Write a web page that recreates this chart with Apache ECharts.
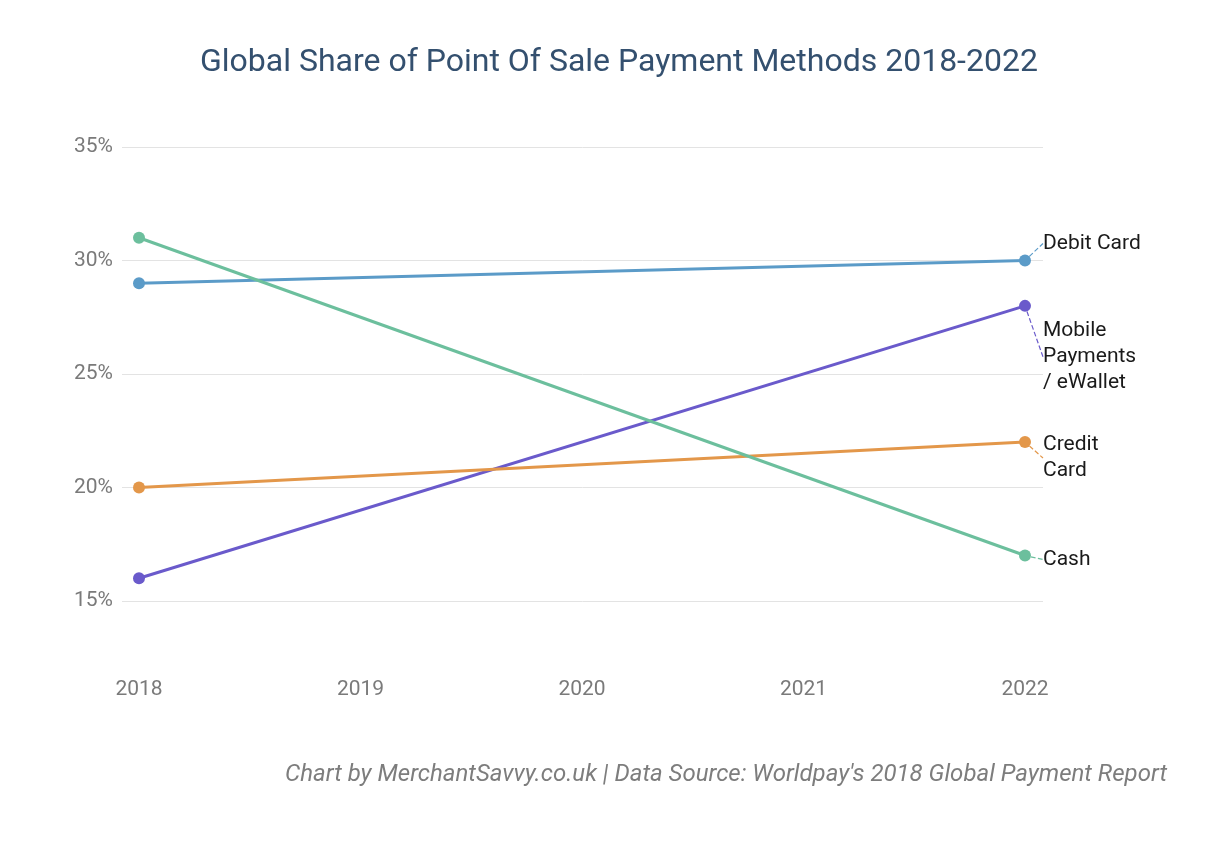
<!DOCTYPE html>
<html>
<head>
<meta charset="utf-8">
<script src="https://cdn.jsdelivr.net/npm/echarts@6/dist/echarts.min.js"></script>
<style>html,body{margin:0;padding:0;background:#fff;}#c{width:1212px;height:868px;}</style>
</head>
<body>
<div id="c"></div>
<script>
const years = ['2018', '2019', '2020', '2021', '2022'];
const seriesNames = ['Debit Card', 'Mobile\nPayments\n/ eWallet', 'Credit\nCard', 'Cash'];
const debitCard = [29, null, null, null, 30];
const mobilePayments = [16, null, null, null, 28];
const creditCard = [20, null, null, null, 22];
const cash = [31, null, null, null, 17];
const yTicks = [15, 20, 25, 30, 35];

const colors = ['#5b9bc8', '#6a5acb', '#e3974a', '#6cbf9d'];
const labelDy = [-17, 51, 16, 4];
const values = [debitCard, mobilePayments, creditCard, cash];

const chart = echarts.init(document.getElementById('c'));
const font = 'Roboto, sans-serif';

const series = values.map((arr, i) => ({
  name: seriesNames[i],
  type: 'line',
  xAxisIndex: 1,
  yAxisIndex: 1,
  connectNulls: true,
  symbol: 'circle',
  symbolSize: 12,
  lineStyle: { width: 3, color: colors[i] },
  itemStyle: { color: colors[i] },
  emphasis: { disabled: true },
  data: arr.map((v, j) => j === arr.length - 1 ? {
    value: v,
    label: {
      show: true, position: 'right', distance: 12,
      formatter: seriesNames[i],
      color: '#1a1a1a', fontFamily: font, fontSize: 21, lineHeight: 26, align: 'left'
    },
    labelLine: { show: true, lineStyle: { color: colors[i], type: 'dashed', width: 1.2 } }
  } : v),
  labelLayout: { dy: labelDy[i], dx: 0 },
  labelLine: { show: true, lineStyle: { color: colors[i], type: 'dashed', width: 1.2 } },
  z: 3
}));

chart.setOption({
  animation: false,
  backgroundColor: '#ffffff',
  title: [{
    text: 'Global Share of Point Of Sale Payment Methods 2018-2022',
    left: 195, top: 42,
    textStyle: { color: '#34506f', fontFamily: font, fontSize: 32, fontWeight: 'normal' }
  }, {
    text: "Chart by MerchantSavvy.co.uk | Data Source: Worldpay's 2018 Global Payment Report",
    right: 40, top: 758,
    textStyle: { color: '#7d7d7d', fontFamily: font, fontSize: 24, fontStyle: 'italic', fontWeight: 'normal' }
  }],
  grid: [
    { left: 122, right: 169, top: 147, bottom: 267 },
    { left: 139, right: 187, top: 147, bottom: 199 }
  ],
  xAxis: [
    { gridIndex: 0, type: 'category', data: years, show: false },
    {
      gridIndex: 1, type: 'category', data: years, boundaryGap: false,
      axisLine: { show: false }, axisTick: { show: false }, splitLine: { show: false },
      axisLabel: { color: '#7a7a7a', fontFamily: font, fontSize: 21, margin: 10 }
    }
  ],
  yAxis: [
    {
      gridIndex: 0, type: 'value', min: yTicks[0], max: yTicks[yTicks.length - 1], interval: 5,
      axisLine: { show: false }, axisTick: { show: false },
      splitLine: { lineStyle: { color: '#e3e3e3', width: 1 } },
      axisLabel: { color: '#7a7a7a', fontFamily: font, fontSize: 21, margin: 9, formatter: '{value}%' }
    },
    {
      gridIndex: 1, type: 'value', min: 12, max: 35, show: false, splitLine: { show: false }
    }
  ],
  series: series
});
</script>
</body>
</html>
